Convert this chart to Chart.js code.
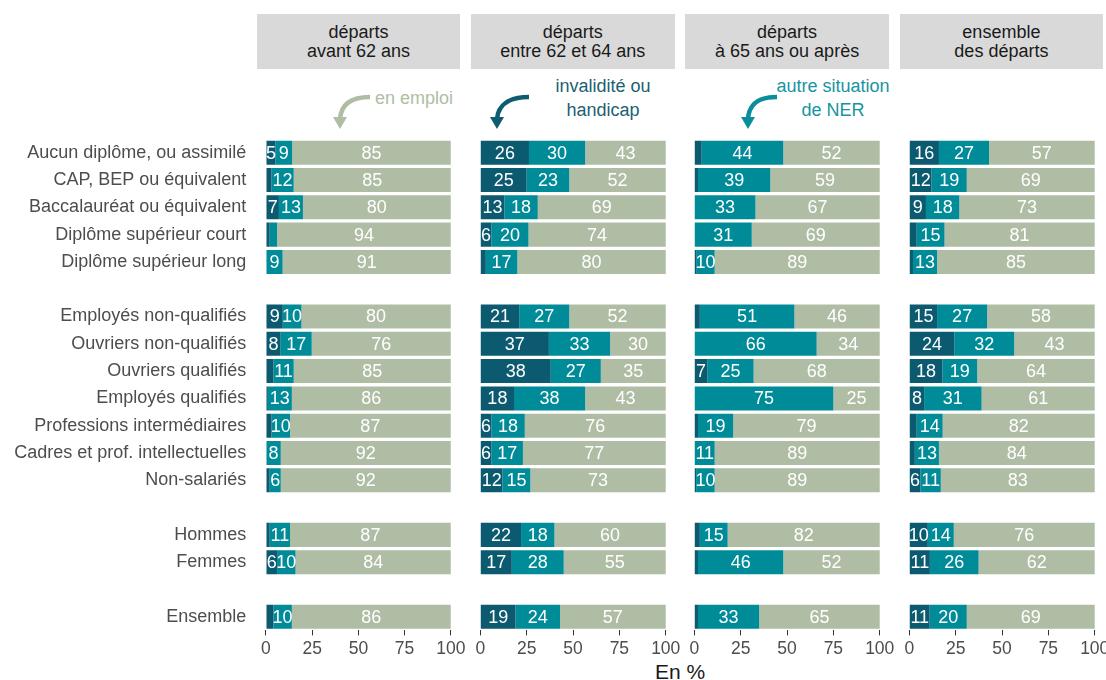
<!DOCTYPE html>
<html><head><meta charset="utf-8">
<script src="https://cdn.jsdelivr.net/npm/chart.js@4/dist/chart.umd.min.js"></script>
<style>
body{margin:0;background:#fff;width:1106px;height:680px;overflow:hidden;position:relative;font-family:"Liberation Sans",Arial,sans-serif;}
.strip{position:absolute;top:14px;height:55px;background:#d9d9d9;color:#1a1a1a;font-size:18px;line-height:19px;display:flex;flex-direction:column;justify-content:center;align-items:center;text-align:center}
canvas{position:absolute;top:0}
.ann{position:absolute;font-size:18px;line-height:24px;text-align:center;white-space:nowrap}
#xtitle{position:absolute;left:580px;width:200px;top:659px;text-align:center;font-size:21px;color:#1a1a1a;line-height:26px}
svg{position:absolute;left:0;top:0}
</style></head><body>
<svg width="1106" height="680">
  <path d="M 370 97 C 350 97, 341 105, 340 119" stroke="#afbda4" stroke-width="4.5" fill="none"/>
  <polygon points="333,117 347,117 340,129" fill="#afbda4"/>
  <path d="M 529 97 C 509 97, 498 105, 497 119" stroke="#0d5c70" stroke-width="4.5" fill="none"/>
  <polygon points="490,117 504,117 497,129" fill="#0d5c70"/>
  <path d="M 777 97 C 757 97, 749 105, 748 119" stroke="#0a8e9b" stroke-width="4.5" fill="none"/>
  <polygon points="741,117 755,117 748,129" fill="#0a8e9b"/>
</svg>
<div class="ann" style="left:375px;top:86px;color:#afbda4;text-align:left">en emploi</div>
<div class="ann" style="left:523px;width:160px;top:74px;color:#1b5f73">invalidité ou<br>handicap</div>
<div class="ann" style="left:753px;width:160px;top:74px;color:#1794a1">autre situation<br>de NER</div>
<div id="xtitle">En %</div>
<script>
// Categories (blank strings are spacer rows between groups)
const categories = ['Aucun diplôme, ou assimilé','CAP, BEP ou équivalent','Baccalauréat ou équivalent','Diplôme supérieur court','Diplôme supérieur long',
  'Employés non-qualifiés','Ouvriers non-qualifiés','Ouvriers qualifiés','Employés qualifiés','Professions intermédiaires','Cadres et prof. intellectuelles','Non-salariés',
  'Hommes','Femmes','Ensemble'];
const gapAfter = [4, 11, 13]; // spacer row after these category indices
const seriesNames = ['invalidité ou handicap','autre situation de NER','en emploi'];
const panelTitles = [['départs','avant 62 ans'],['départs','entre 62 et 64 ans'],['départs','à 65 ans ou après'],['ensemble','des départs']];
const xTicks = [0,25,50,75,100];

// Panel 1 : départs avant 62 ans
const avant62_invalidite = [5,3,7,2,0, 9,8,4,1,3,0,2, 2,6, 4];
const avant62_autre      = [9,12,13,4,9, 10,17,11,13,10,8,6, 11,10, 10];
const avant62_emploi     = [85,85,80,94,91, 80,76,85,86,87,92,92, 87,84, 86];
// Panel 2 : départs entre 62 et 64 ans
const entre62_64_invalidite = [26,25,13,6,3, 21,37,38,18,6,6,12, 22,17, 19];
const entre62_64_autre      = [30,23,18,20,17, 27,33,27,38,18,17,15, 18,28, 24];
const entre62_64_emploi     = [43,52,69,74,80, 52,30,35,43,76,77,73, 60,55, 57];
// Panel 3 : départs à 65 ans ou après
const apres65_invalidite = [4,2,0,0,1, 3,0,7,0,2,0,1, 3,2, 2];
const apres65_autre      = [44,39,33,31,10, 51,66,25,75,19,11,10, 15,46, 33];
const apres65_emploi     = [52,59,67,69,89, 46,34,68,25,79,89,89, 82,52, 65];
// Panel 4 : ensemble des départs
const ensemble_invalidite = [16,12,9,4,2, 15,24,18,8,4,3,6, 10,11, 11];
const ensemble_autre      = [27,19,18,15,13, 27,32,19,31,14,13,11, 14,26, 20];
const ensemble_emploi     = [57,69,73,81,85, 58,43,64,61,82,84,83, 76,62, 69];

const colors = ['#0b5a70','#008b98','#b0bda5'];
const FONT = '"Liberation Sans", Arial, sans-serif';

function withGaps(arr, filler){
  const out = [];
  arr.forEach((v,i)=>{ out.push(v); if (gapAfter.includes(i)) out.push(filler); });
  return out;
}
const labelsFull = withGaps(categories, '');

// printed (rounded) values are shown as labels; bars are shares of 100 %
const valueLabels = {
  id:'valueLabels',
  afterDatasetsDraw(chart){
    const ctx = chart.ctx; ctx.save();
    ctx.font = '18px ' + FONT;
    ctx.fillStyle = '#ffffff'; ctx.textAlign = 'center'; ctx.textBaseline = 'middle';
    chart.data.datasets.forEach((ds, di) => {
      const meta = chart.getDatasetMeta(di);
      meta.data.forEach((el, j) => {
        const v = ds.printed[j];
        if (v == null || v < 5) return;
        ctx.fillText(String(v), (el.x + el.base) / 2, el.y + 1);
      });
    });
    ctx.restore();
  }
};

const L0 = 256.75, STEP = 214.3, PW = 203.5, TOP = 139.1, BOTTOM = 630.4, H = 680;

function makePanel(i, inval, autre, emploi){
  const first = i === 0;
  const padL = first ? 0 : 12, padR = 24;
  const areaLeft = L0 + i * STEP;
  const left = first ? 0 : areaLeft - padL;
  const w = first ? (L0 + PW + padR) : (PW + padL + padR);
  const cv = document.createElement('canvas');
  cv.width = Math.round(w); cv.height = H;
  cv.style.left = left + 'px'; cv.style.width = Math.round(w) + 'px'; cv.style.height = H + 'px';
  document.body.appendChild(cv);

  const strip = document.createElement('div');
  strip.className = 'strip';
  strip.style.left = areaLeft + 'px'; strip.style.width = PW + 'px';
  strip.innerHTML = '<div>' + panelTitles[i][0] + '</div><div>' + panelTitles[i][1] + '</div>';
  document.body.appendChild(strip);

  const series = [inval, autre, emploi];
  const totals = inval.map((_, j) => inval[j] + autre[j] + emploi[j]);
  new Chart(cv, {
    type: 'bar',
    data: {
      labels: labelsFull,
      datasets: series.map((s, k) => ({
        label: seriesNames[k],
        data: withGaps(s.map((v, j) => v * 100 / totals[j]), null),
        printed: withGaps(s, null),
        backgroundColor: colors[k],
        borderWidth: 0,
        barPercentage: 0.88,
        categoryPercentage: 1.0
      }))
    },
    options: {
      indexAxis: 'y',
      responsive: false,
      animation: false,
      devicePixelRatio: 1,
      layout: { padding: { top: TOP, left: padL, right: padR, bottom: 0 } },
      plugins: { legend: { display: false }, tooltip: { enabled: false } },
      scales: {
        x: {
          stacked: true, min: -5, max: 105,
          afterBuildTicks: (sc) => { sc.ticks = xTicks.map(v => ({ value: v })); },
          afterFit: (sc) => { sc.height = H - BOTTOM; },
          grid: { drawOnChartArea: false, drawTicks: true, tickLength: 5, color: '#333333', lineWidth: 1 },
          border: { display: false },
          ticks: { color: '#4d4d4d', font: { size: 17.5, family: FONT }, padding: 3, maxRotation: 0, autoSkip: false }
        },
        y: {
          stacked: true,
          display: first,
          afterFit: (sc) => { if (first) sc.width = L0; },
          grid: { display: false, drawTicks: false },
          border: { display: false },
          ticks: { color: '#4d4d4d', font: { size: 18, family: FONT }, padding: 10.5, autoSkip: false }
        }
      }
    },
    plugins: [valueLabels]
  });
}

makePanel(0, avant62_invalidite, avant62_autre, avant62_emploi);
makePanel(1, entre62_64_invalidite, entre62_64_autre, entre62_64_emploi);
makePanel(2, apres65_invalidite, apres65_autre, apres65_emploi);
makePanel(3, ensemble_invalidite, ensemble_autre, ensemble_emploi);
</script>
</body></html>
